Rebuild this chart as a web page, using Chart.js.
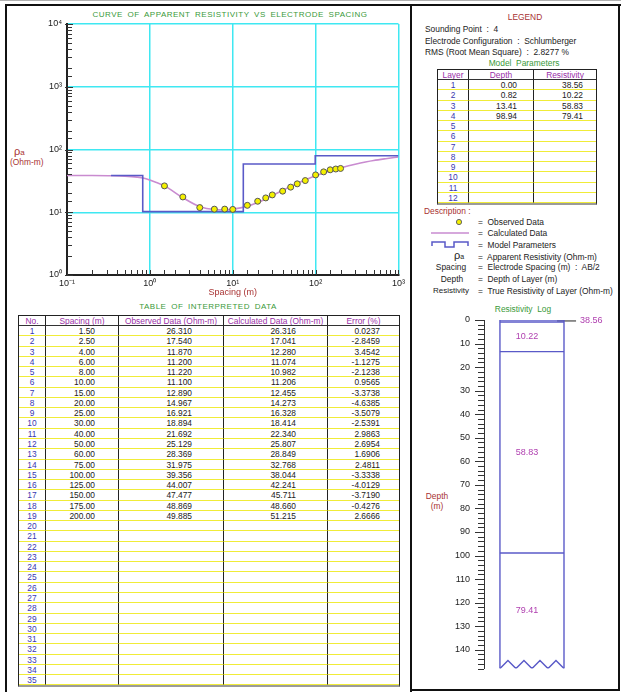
<!DOCTYPE html>
<html>
<head>
<meta charset="utf-8">
<script src="https://cdn.jsdelivr.net/npm/chart.js@4.4.1/dist/chart.umd.min.js"></script>
<style>
  body { margin: 0; background: #fff; font-family: "Liberation Sans", Arial, sans-serif; font-size: 8.4px; color: #222; }
  #page { position: relative; width: 621px; height: 692px; overflow: hidden; background: #fff; }
  .t { position: absolute; white-space: pre; line-height: 10px; height: 10px; }
  .c { transform: translateX(-50%); }
  .red { color: #a83232; }
  .green { color: #3a9a3a; letter-spacing: 0.5px; word-spacing: 2px; font-size: 8px; }
  .line { position: absolute; background: #111; }
  canvas { position: absolute; }
  .grid { position: absolute; display: grid; box-sizing: border-box;
          border-left: 1px solid #222; border-top: 1px solid #222; border-right: 1px solid #222; border-bottom: 2px solid #9a9a9a; }
  .grid div { box-sizing: border-box; border-bottom: 1px solid #f0ec38; white-space: nowrap; overflow: hidden; line-height: 9px; padding-top: 0.5px; }
  .grid .h { border-bottom: 1px solid #333; color: #9a30a8; text-align: center; }
  .grid .sep { border-right: 1px solid #222; }
  .grid .n { color: #3838b0; text-align: center; }
  .grid .r { text-align: right; }
</style>
</head>
<body>
<div id="page">
  <!-- frame -->
  <div class="line" style="left:0;top:0;width:621px;height:1px;background:#b0b0b0"></div>
  <div class="line" style="left:5px;top:4px;width:616px;height:2px"></div>
  <div class="line" style="left:5px;top:4px;width:2px;height:688px"></div>
  <div class="line" style="left:410px;top:4px;width:2px;height:688px"></div>
  <div class="line" style="left:618px;top:4px;width:2px;height:687px"></div>
  <div class="line" style="left:410px;top:689px;width:210px;height:2px"></div>

  <!-- curve panel -->
  <div class="t green c" style="left:230px;top:10px">CURVE OF APPARENT RESISTIVITY VS ELECTRODE SPACING</div>
  <div class="t red" style="left:14px;top:146px;font-size:11px">ρ<span style="font-size:8px">a</span></div>
  <div class="t red" style="left:10px;top:157px">(Ohm-m)</div>
  <canvas id="curve" width="400" height="293" style="left:8px;top:7px"></canvas>

  <!-- interpreted data table -->
  <div class="t green c" style="left:208px;top:302px">TABLE OF INTERPRETED DATA</div>
  <div id="dataTable" class="grid" style="left:18px;top:315px;width:382px;grid-template-columns:27px 73px 105px 104px 71px;"></div>

  <!-- legend panel -->
  <div class="t red c" style="left:525px;top:12px">LEGEND</div>
  <div class="t" style="left:425px;top:24px">Sounding Point  :  4</div>
  <div class="t" style="left:425px;top:36px">Electrode Configuration  :  Schlumberger</div>
  <div class="t" style="left:425px;top:47px">RMS (Root Mean Square)  :  2.8277 %</div>
  <div class="t c" style="left:524px;top:58px;color:#3a9a3a">Model  Parameters</div>
  <div id="modelTable" class="grid" style="left:437px;top:69px;width:160px;grid-template-columns:31px 65px 62px;"></div>

  <div class="t red" style="left:424px;top:206px">Description :</div>
  <svg style="position:absolute;left:454px;top:217px" width="10" height="10"><circle cx="5" cy="5" r="2.6" fill="#f4f000" stroke="#666" stroke-width="1"/></svg>
  <svg style="position:absolute;left:431px;top:229px" width="40" height="8"><line x1="0" y1="4" x2="38" y2="4" stroke="#c98bd0" stroke-width="1.5"/></svg>
  <svg style="position:absolute;left:431px;top:240px" width="42" height="9"><polyline points="1,6 1,2 14,2 14,7 23,7 23,2 37,2 37,6" fill="none" stroke="#5a5ac8" stroke-width="1.5"/></svg>
  <div class="t c" style="left:459px;top:250px;font-size:11px">ρ<span style="font-size:7px">a</span></div>
  <div class="t c" style="left:451px;top:262px">Spacing</div>
  <div class="t c" style="left:452px;top:274px">Depth</div>
  <div class="t c" style="left:451px;top:286px;font-size:8px">Resistivity</div>
  <div class="t" style="left:478px;top:217px">=  Observed Data</div>
  <div class="t" style="left:478px;top:228px">=  Calculated Data</div>
  <div class="t" style="left:478px;top:240px">=  Model Parameters</div>
  <div class="t" style="left:478px;top:252px">=  Apparent Resistivity (Ohm-m)</div>
  <div class="t" style="left:478px;top:262px">=  Electrode Spacing (m)  :  AB/2</div>
  <div class="t" style="left:478px;top:274px">=  Depth of Layer (m)</div>
  <div class="t" style="left:478px;top:286px">=  True Resistivity of Layer (Ohm-m)</div>

  <!-- resistivity log -->
  <div class="t c" style="left:523px;top:304px;color:#3a9a3a">Resistivity  Log</div>
  <div class="t red c" style="left:437px;top:491px">Depth</div>
  <div class="t red c" style="left:437px;top:501px">(m)</div>
  <canvas id="log" width="205" height="388" style="left:413px;top:300px"></canvas>
</div>

<script>
// observed and calculated apparent resistivity at each AB/2 spacing
const spacing = [1.5, 2.5, 4, 6, 8, 10, 15, 20, 25, 30, 40, 50, 60, 75, 100, 125, 150, 175, 200];
const observed = [26.310, 17.540, 11.870, 11.200, 11.220, 11.100, 12.890, 14.967, 16.921, 18.894,
                  21.692, 25.129, 28.369, 31.975, 39.356, 44.007, 47.477, 48.869, 49.885];
const calculated = [26.316, 17.041, 12.280, 11.074, 10.982, 11.206, 12.455, 14.273, 16.328, 18.414,
                    22.340, 25.807, 28.849, 32.768, 38.044, 42.241, 45.711, 48.660, 51.215];
const errorPct = [0.0237, -2.8459, 3.4542, -1.1275, -2.1238, 0.9565, -3.3738, -4.6385, -3.5079, -2.5391,
                  2.9863, 2.6954, 1.6906, 2.4811, -3.3338, -4.0129, -3.7190, -0.4276, 2.6666];

const curveLeftX = [0.1, 0.2, 0.35, 0.5, 0.7, 0.85, 1.0, 1.2];
const curveLeftY = [38.56, 38.5, 38.2, 37.6, 36.3, 34.9, 32.6, 29.8];
const curveRightX = [250, 300, 400, 500, 700, 1000];
const curveRightY = [55.2, 58.4, 63.3, 66.9, 71.4, 75.9];

// model layers
const layerNo = [1, 2, 3, 4];
const layerDepth = [0.00, 0.82, 13.41, 98.94];
const layerRes = [38.56, 10.22, 58.83, 79.41];
const tableRows = 35;
const modelRows = 12;

// axis tick labels
const depthTicks = [0, 10, 20, 30, 40, 50, 60, 70, 80, 90, 100, 110, 120, 130, 140];

const MODEL_START = 0.34, SPACING_MAX = 1000;
const LOG_BOTTOM = 148, ZIG_TOP = 144.6;
const COL_L = 0.119, COL_R = 0.597, LEAD_L = 0.545, LEAD_R = 0.687, LABEL0_X = 0.716, LABEL_X = 0.321;

const FONT = '"Liberation Sans", Arial, sans-serif';
const CYAN = '#3fe8f2', BLUE = '#5a5ac8', PINK = '#c98bd0';

// ---------- tables ----------
function cell(cls, text, style) {
  return '<div class="' + cls + '" style="' + (style || '') + '">' + text + '</div>';
}
// whole-pixel row heights so the yellow rules stay sharp
function rowHeights(n, h) {
  const out = [];
  for (let i = 0; i < n; i++) out.push((Math.round((i + 1) * h) - Math.round(i * h)) + 'px');
  return out.join(' ');
}

let html = '';
const heads = ['No.', 'Spacing (m)', 'Observed Data (Ohm-m)', 'Calculated Data (Ohm-m)', 'Error (%)'];
heads.forEach((h, i) => { html += cell('h' + (i < 4 ? ' sep' : ''), h); });
for (let i = 0; i < tableRows; i++) {
  const has = i < spacing.length;
  html += cell('n sep', i + 1);
  html += cell('r sep', has ? spacing[i].toFixed(2) : '', 'padding-right:23px');
  html += cell('r sep', has ? observed[i].toFixed(3) : '', 'padding-right:31px');
  html += cell('r sep', has ? calculated[i].toFixed(3) : '', 'padding-right:31px');
  html += cell('r', has ? errorPct[i].toFixed(4) : '', 'padding-right:19px');
}
const dt = document.getElementById('dataTable');
dt.style.gridTemplateRows = '10px ' + rowHeights(tableRows, 10.27);
dt.innerHTML = html;

html = '';
['Layer', 'Depth', 'Resistivity'].forEach((h, i) => { html += cell('h' + (i < 2 ? ' sep' : ''), h); });
for (let i = 0; i < modelRows; i++) {
  const has = i < layerNo.length;
  html += cell('n sep', i + 1);
  html += cell('r sep', has ? layerDepth[i].toFixed(2) : '', 'padding-right:16px');
  html += cell('r', has ? layerRes[i].toFixed(2) : '', 'padding-right:13px');
}
const mt = document.getElementById('modelTable');
mt.style.gridTemplateRows = '10px ' + rowHeights(modelRows, 10.25);
mt.innerHTML = html;

// ---------- curve chart ----------
const isDecade = v => Math.abs(Math.log10(v) - Math.round(Math.log10(v))) < 1e-6;
const sup = { '-': '⁻', '0': '⁰', '1': '¹', '2': '²', '3': '³', '4': '⁴' };
const powLabel = v => '10' + String(Math.round(Math.log10(v))).split('').map(c => sup[c]).join('');

const curveX = curveLeftX.concat(spacing, curveRightX);
const curveY = curveLeftY.concat(calculated, curveRightY);
const modelX = [MODEL_START].concat(layerDepth.slice(1), [SPACING_MAX]);
const modelY = layerRes.concat([layerRes[layerRes.length - 1]]);

const innerTicks = {
  id: 'innerTicks',
  afterDraw(chart) {
    const { ctx, chartArea } = chart;
    const xs = chart.scales.x, ys = chart.scales.y;
    ctx.save();
    ctx.strokeStyle = '#333';
    ctx.lineWidth = 1;
    ctx.beginPath();
    ys.ticks.forEach(t => {
      const y = Math.round(ys.getPixelForValue(t.value)) + 0.5;
      const d = isDecade(t.value);
      ctx.moveTo(chartArea.left - (d ? 2 : 0), y);
      ctx.lineTo(chartArea.left + (d ? 6 : 5), y);
    });
    xs.ticks.forEach(t => {
      const x = Math.round(xs.getPixelForValue(t.value)) + 0.5;
      ctx.moveTo(x, chartArea.bottom);
      ctx.lineTo(x, chartArea.bottom - 5);
    });
    ctx.stroke();
    ctx.restore();
  }
};

new Chart(document.getElementById('curve'), {
  type: 'line',
  data: {
    datasets: [
      {
        label: 'Observed Data',
        data: spacing.map((x, i) => ({ x, y: observed[i] })),
        showLine: false,
        pointRadius: 3,
        pointBackgroundColor: '#f4f000',
        pointBorderColor: '#555',
        pointBorderWidth: 1,
        order: 0
      },
      {
        label: 'Model Parameters',
        data: modelX.map((x, i) => ({ x, y: modelY[i] })),
        stepped: 'before',
        borderColor: BLUE,
        borderWidth: 1.6,
        pointRadius: 0,
        order: 1
      },
      {
        label: 'Calculated Data',
        data: curveX.map((x, i) => ({ x, y: curveY[i] })),
        borderColor: PINK,
        borderWidth: 1.6,
        pointRadius: 0,
        cubicInterpolationMode: 'monotone',
        order: 2
      }
    ]
  },
  options: {
    responsive: false,
    animation: false,
    layout: { padding: { left: 0, right: 8, top: 17, bottom: 0 } },
    plugins: { legend: { display: false }, tooltip: { enabled: false } },
    scales: {
      x: {
        type: 'logarithmic',
        min: 0.1,
        max: SPACING_MAX,
        afterFit: s => { s.height = 25; },
        grid: { color: c => (c.tick && isDecade(c.tick.value)) ? CYAN : 'rgba(0,0,0,0)', lineWidth: 1.5, drawTicks: false },
        border: { display: true, color: '#222', width: 2 },
        ticks: {
          autoSkip: false, maxRotation: 0, padding: 3,
          color: '#222', font: { family: FONT, size: 9 },
          callback: v => isDecade(v) ? powLabel(v) : ''
        },
        title: { display: true, text: 'Spacing (m)', color: '#a83232', font: { family: FONT, size: 9 }, padding: { top: 0, bottom: 2 } }
      },
      y: {
        type: 'logarithmic',
        min: 1,
        max: 10000,
        afterFit: s => { s.width = 59; },
        grid: { color: c => (c.tick && isDecade(c.tick.value)) ? CYAN : 'rgba(0,0,0,0)', lineWidth: 1.5, drawTicks: false },
        border: { display: true, color: '#222', width: 2 },
        ticks: {
          autoSkip: false, padding: 5,
          color: '#222', font: { family: FONT, size: 9 },
          callback: v => isDecade(v) ? powLabel(v) : ''
        }
      }
    }
  },
  plugins: [innerTicks]
});

// ---------- resistivity log ----------
const layerBottom = layerDepth.slice(1).concat([LOG_BOTTOM]);
const lineStyle = { borderColor: BLUE, borderWidth: 1.4, pointRadius: 0, fill: false };
const logSets = [
  Object.assign({ data: [{ x: COL_L, y: 0 }, { x: COL_L, y: LOG_BOTTOM }] }, lineStyle),
  Object.assign({ data: [{ x: COL_R, y: 0 }, { x: COL_R, y: LOG_BOTTOM }] }, lineStyle)
];
layerDepth.forEach(d => {
  logSets.push(Object.assign({ data: [{ x: COL_L, y: d }, { x: COL_R, y: d }] }, lineStyle));
});
const zig = [];
for (let k = 0; k <= 8; k++) {
  zig.push({ x: COL_L + (COL_R - COL_L) * k / 8, y: k % 2 ? ZIG_TOP : LOG_BOTTOM });
}
logSets.push(Object.assign({ data: zig }, lineStyle));
const topMid = (layerDepth[0] + layerBottom[0]) / 2;
logSets.push({ data: [{ x: LEAD_L, y: topMid }, { x: LEAD_R, y: topMid }], borderColor: '#222', borderWidth: 1, pointRadius: 0 });

const depthAxisTicks = {
  id: 'depthAxisTicks',
  afterDraw(chart) {
    const { ctx, chartArea } = chart;
    const ys = chart.scales.y, xs = chart.scales.x;
    ctx.save();
    ctx.strokeStyle = '#333';
    ctx.lineWidth = 1;
    ctx.beginPath();
    ys.ticks.forEach(t => {
      const y = Math.round(ys.getPixelForValue(t.value)) + 0.5;
      const len = depthTicks.includes(t.value) ? 9 : 6;
      ctx.moveTo(chartArea.left - len, y);
      ctx.lineTo(chartArea.left, y);
    });
    ctx.stroke();
    ctx.font = '9px ' + FONT;
    ctx.fillStyle = '#b040b0';
    ctx.textBaseline = 'middle';
    layerRes.forEach((r, i) => {
      const mid = (layerDepth[i] + layerBottom[i]) / 2;
      if (i === 0) {
        ctx.textAlign = 'left';
        ctx.fillText(r.toFixed(2), xs.getPixelForValue(LABEL0_X), ys.getPixelForValue(mid));
      } else {
        ctx.textAlign = 'center';
        ctx.fillText(r.toFixed(2), xs.getPixelForValue(LABEL_X), ys.getPixelForValue(mid));
      }
    });
    ctx.restore();
  }
};

new Chart(document.getElementById('log'), {
  type: 'line',
  data: { datasets: logSets },
  options: {
    responsive: false,
    animation: false,
    layout: { padding: { left: 0, right: 0, top: 20, bottom: 6.8 } },
    plugins: { legend: { display: false }, tooltip: { enabled: false } },
    scales: {
      x: { type: 'linear', min: 0, max: 1, display: false },
      y: {
        type: 'linear',
        reverse: true,
        min: 0,
        max: LOG_BOTTOM,
        afterFit: s => { s.width = 71; },
        grid: { drawOnChartArea: false, drawTicks: false },
        border: { display: true, color: '#333', width: 1 },
        ticks: {
          stepSize: 2, autoSkip: false, padding: 14,
          color: '#222', font: { family: FONT, size: 9 },
          callback: v => depthTicks.includes(v) ? String(v) : ''
        }
      }
    }
  },
  plugins: [depthAxisTicks]
});
</script>
</body>
</html>
